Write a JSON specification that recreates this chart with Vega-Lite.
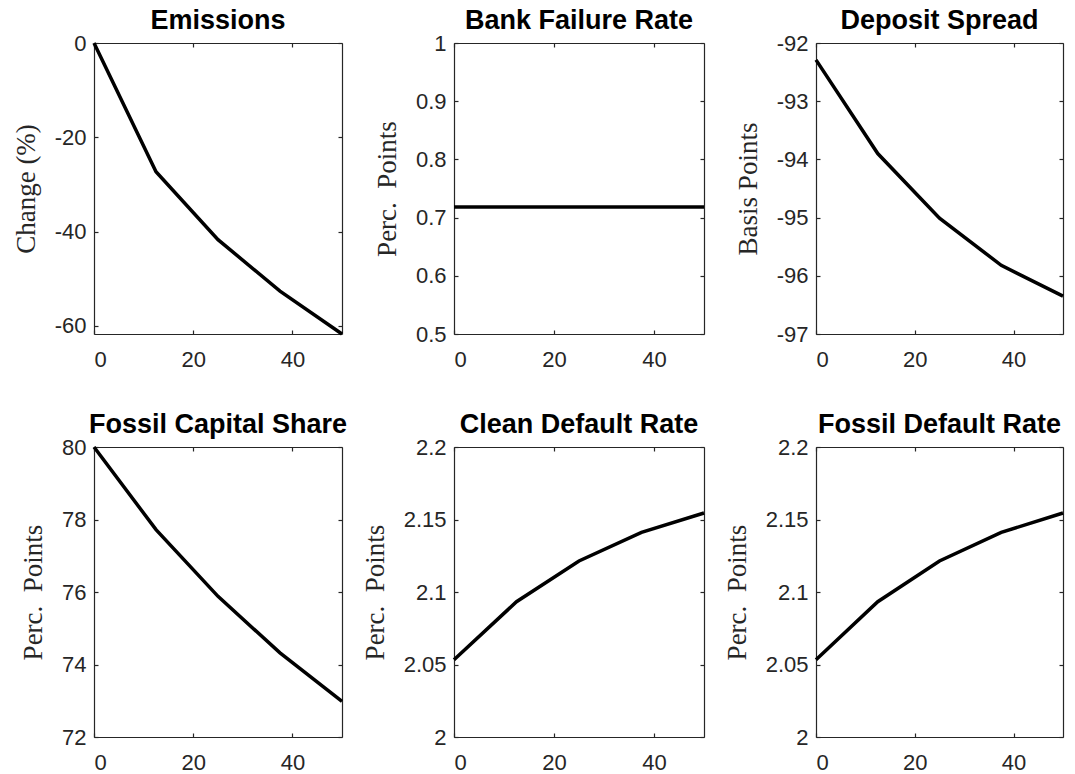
{
  "$schema": "https://vega.github.io/schema/vega-lite/v6.json",
  "background": "white",
  "padding": {"left": 12, "top": 7, "right": 8, "bottom": 2},
  "datasets": {
    "irf": [
      {"panel": "Emissions", "t": 0, "value": 0},
      {"panel": "Emissions", "t": 12.5, "value": -27.3},
      {"panel": "Emissions", "t": 25, "value": -41.7},
      {"panel": "Emissions", "t": 37.5, "value": -52.6},
      {"panel": "Emissions", "t": 50, "value": -61.7},
      {"panel": "Bank Failure Rate", "t": 0, "value": 0.718},
      {"panel": "Bank Failure Rate", "t": 12.5, "value": 0.718},
      {"panel": "Bank Failure Rate", "t": 25, "value": 0.718},
      {"panel": "Bank Failure Rate", "t": 37.5, "value": 0.718},
      {"panel": "Bank Failure Rate", "t": 50, "value": 0.718},
      {"panel": "Deposit Spread", "t": 0, "value": -92.29},
      {"panel": "Deposit Spread", "t": 12.5, "value": -93.9},
      {"panel": "Deposit Spread", "t": 25, "value": -95.01},
      {"panel": "Deposit Spread", "t": 37.5, "value": -95.82},
      {"panel": "Deposit Spread", "t": 50, "value": -96.35},
      {"panel": "Fossil Capital Share", "t": 0, "value": 80.0},
      {"panel": "Fossil Capital Share", "t": 12.5, "value": 77.72},
      {"panel": "Fossil Capital Share", "t": 25, "value": 75.88},
      {"panel": "Fossil Capital Share", "t": 37.5, "value": 74.32},
      {"panel": "Fossil Capital Share", "t": 50, "value": 72.98},
      {"panel": "Clean Default Rate", "t": 0, "value": 2.0533},
      {"panel": "Clean Default Rate", "t": 12.5, "value": 2.0933},
      {"panel": "Clean Default Rate", "t": 25, "value": 2.1214},
      {"panel": "Clean Default Rate", "t": 37.5, "value": 2.1411},
      {"panel": "Clean Default Rate", "t": 50, "value": 2.1545},
      {"panel": "Fossil Default Rate", "t": 0, "value": 2.0533},
      {"panel": "Fossil Default Rate", "t": 12.5, "value": 2.0933},
      {"panel": "Fossil Default Rate", "t": 25, "value": 2.1214},
      {"panel": "Fossil Default Rate", "t": 37.5, "value": 2.1411},
      {"panel": "Fossil Default Rate", "t": 50, "value": 2.1545}
    ]
  },
  "columns": 3,
  "bounds": "flush",
  "spacing": {"row": 113, "column": 112},
  "concat": [
    {
      "title": "Emissions",
      "width": 248, "height": 291,
      "data": {"name": "irf"},
      "transform": [{"filter": "datum.panel === 'Emissions'"}],
      "layer": [
        {
          "mark": {"type": "line", "color": "black", "strokeWidth": 3.5},
          "encoding": {
            "x": {"field": "t", "type": "quantitative", "scale": {"domain": [0, 50], "nice": false, "zero": false}, "axis": {"orient": "bottom", "values": [0, 20, 40], "title": null}},
            "y": {"field": "value", "type": "quantitative", "scale": {"domain": [-61.7, 0], "nice": false, "zero": false}, "axis": {"orient": "left", "values": [-60, -40, -20, 0], "title": "Change (%)"}}
          }
        },
        {
          "mark": {"type": "line", "opacity": 0},
          "encoding": {
            "x": {"field": "t", "type": "quantitative", "axis": {"orient": "top", "values": [0, 20, 40], "labels": false, "title": null}},
            "y": {"field": "value", "type": "quantitative", "axis": {"orient": "right", "values": [-60, -40, -20, 0], "labels": false, "title": null}}
          }
        }
      ],
      "resolve": {"axis": {"x": "independent", "y": "independent"}}
    },
    {
      "title": "Bank Failure Rate",
      "width": 250, "height": 291,
      "data": {"name": "irf"},
      "transform": [{"filter": "datum.panel === 'Bank Failure Rate'"}],
      "layer": [
        {
          "mark": {"type": "line", "color": "black", "strokeWidth": 3.5},
          "encoding": {
            "x": {"field": "t", "type": "quantitative", "scale": {"domain": [0, 50], "nice": false, "zero": false}, "axis": {"orient": "bottom", "values": [0, 20, 40], "title": null}},
            "y": {"field": "value", "type": "quantitative", "scale": {"domain": [0.5, 1], "nice": false, "zero": false}, "axis": {"orient": "left", "values": [0.5, 0.6, 0.7, 0.8, 0.9, 1], "title": "Perc.\u00a0 Points"}}
          }
        },
        {
          "mark": {"type": "line", "opacity": 0},
          "encoding": {
            "x": {"field": "t", "type": "quantitative", "axis": {"orient": "top", "values": [0, 20, 40], "labels": false, "title": null}},
            "y": {"field": "value", "type": "quantitative", "axis": {"orient": "right", "values": [0.5, 0.6, 0.7, 0.8, 0.9, 1], "labels": false, "title": null}}
          }
        }
      ],
      "resolve": {"axis": {"x": "independent", "y": "independent"}}
    },
    {
      "title": "Deposit Spread",
      "width": 247, "height": 291,
      "data": {"name": "irf"},
      "transform": [{"filter": "datum.panel === 'Deposit Spread'"}],
      "layer": [
        {
          "mark": {"type": "line", "color": "black", "strokeWidth": 3.5},
          "encoding": {
            "x": {"field": "t", "type": "quantitative", "scale": {"domain": [0, 50], "nice": false, "zero": false}, "axis": {"orient": "bottom", "values": [0, 20, 40], "title": null}},
            "y": {"field": "value", "type": "quantitative", "scale": {"domain": [-97, -92], "nice": false, "zero": false}, "axis": {"orient": "left", "values": [-97, -96, -95, -94, -93, -92], "title": "Basis Points"}}
          }
        },
        {
          "mark": {"type": "line", "opacity": 0},
          "encoding": {
            "x": {"field": "t", "type": "quantitative", "axis": {"orient": "top", "values": [0, 20, 40], "labels": false, "title": null}},
            "y": {"field": "value", "type": "quantitative", "axis": {"orient": "right", "values": [-97, -96, -95, -94, -93, -92], "labels": false, "title": null}}
          }
        }
      ],
      "resolve": {"axis": {"x": "independent", "y": "independent"}}
    },
    {
      "title": "Fossil Capital Share",
      "width": 248, "height": 290,
      "data": {"name": "irf"},
      "transform": [{"filter": "datum.panel === 'Fossil Capital Share'"}],
      "layer": [
        {
          "mark": {"type": "line", "color": "black", "strokeWidth": 3.5},
          "encoding": {
            "x": {"field": "t", "type": "quantitative", "scale": {"domain": [0, 50], "nice": false, "zero": false}, "axis": {"orient": "bottom", "values": [0, 20, 40], "title": null}},
            "y": {"field": "value", "type": "quantitative", "scale": {"domain": [72, 80], "nice": false, "zero": false}, "axis": {"orient": "left", "values": [72, 74, 76, 78, 80], "title": "Perc.\u00a0 Points"}}
          }
        },
        {
          "mark": {"type": "line", "opacity": 0},
          "encoding": {
            "x": {"field": "t", "type": "quantitative", "axis": {"orient": "top", "values": [0, 20, 40], "labels": false, "title": null}},
            "y": {"field": "value", "type": "quantitative", "axis": {"orient": "right", "values": [72, 74, 76, 78, 80], "labels": false, "title": null}}
          }
        }
      ],
      "resolve": {"axis": {"x": "independent", "y": "independent"}}
    },
    {
      "title": "Clean Default Rate",
      "width": 250, "height": 290,
      "data": {"name": "irf"},
      "transform": [{"filter": "datum.panel === 'Clean Default Rate'"}],
      "layer": [
        {
          "mark": {"type": "line", "color": "black", "strokeWidth": 3.5},
          "encoding": {
            "x": {"field": "t", "type": "quantitative", "scale": {"domain": [0, 50], "nice": false, "zero": false}, "axis": {"orient": "bottom", "values": [0, 20, 40], "title": null}},
            "y": {"field": "value", "type": "quantitative", "scale": {"domain": [2, 2.2], "nice": false, "zero": false}, "axis": {"orient": "left", "values": [2, 2.05, 2.1, 2.15, 2.2], "title": "Perc.\u00a0 Points"}}
          }
        },
        {
          "mark": {"type": "line", "opacity": 0},
          "encoding": {
            "x": {"field": "t", "type": "quantitative", "axis": {"orient": "top", "values": [0, 20, 40], "labels": false, "title": null}},
            "y": {"field": "value", "type": "quantitative", "axis": {"orient": "right", "values": [2, 2.05, 2.1, 2.15, 2.2], "labels": false, "title": null}}
          }
        }
      ],
      "resolve": {"axis": {"x": "independent", "y": "independent"}}
    },
    {
      "title": "Fossil Default Rate",
      "width": 247, "height": 290,
      "data": {"name": "irf"},
      "transform": [{"filter": "datum.panel === 'Fossil Default Rate'"}],
      "layer": [
        {
          "mark": {"type": "line", "color": "black", "strokeWidth": 3.5},
          "encoding": {
            "x": {"field": "t", "type": "quantitative", "scale": {"domain": [0, 50], "nice": false, "zero": false}, "axis": {"orient": "bottom", "values": [0, 20, 40], "title": null}},
            "y": {"field": "value", "type": "quantitative", "scale": {"domain": [2, 2.2], "nice": false, "zero": false}, "axis": {"orient": "left", "values": [2, 2.05, 2.1, 2.15, 2.2], "title": "Perc.\u00a0 Points"}}
          }
        },
        {
          "mark": {"type": "line", "opacity": 0},
          "encoding": {
            "x": {"field": "t", "type": "quantitative", "axis": {"orient": "top", "values": [0, 20, 40], "labels": false, "title": null}},
            "y": {"field": "value", "type": "quantitative", "axis": {"orient": "right", "values": [2, 2.05, 2.1, 2.15, 2.2], "labels": false, "title": null}}
          }
        }
      ],
      "resolve": {"axis": {"x": "independent", "y": "independent"}}
    }
  ],
  "config": {
    "view": {"stroke": null},
    "title": {"font": "Liberation Sans", "fontSize": 27, "fontWeight": "bold", "color": "black", "offset": -3, "anchor": "middle"},
    "axis": {
      "grid": false,
      "domain": true,
      "domainColor": "#262626",
      "domainWidth": 1.2,
      "ticks": true,
      "tickSize": -4,
      "tickColor": "#262626",
      "tickWidth": 1.2,
      "labelFont": "Liberation Sans",
      "labelFontSize": 22,
      "labelColor": "#262626",
      "labelExpr": "replace(format(datum.value, '~g'), '\u2212', '-')",
      "titleFont": "Liberation Serif",
      "titleFontSize": 27,
      "titleFontWeight": "normal",
      "titleColor": "#262626"
    },
    "axisLeft": {"labelPadding": 12, "titlePadding": 14},
    "axisBottom": {"labelPadding": 19},
    "axisTop": {"labelPadding": 0},
    "axisRight": {"labelPadding": 0}
  }
}
